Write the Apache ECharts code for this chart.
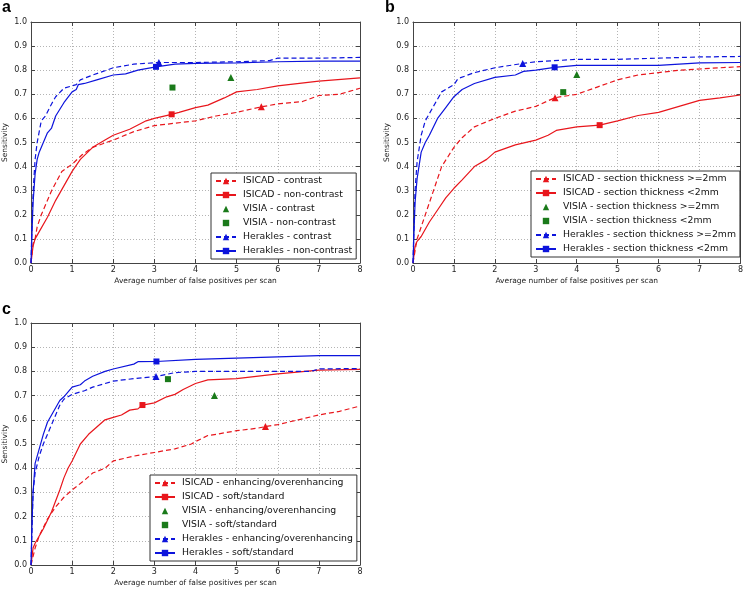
<!DOCTYPE html>
<html><head><meta charset="utf-8">
<script src="https://cdn.jsdelivr.net/npm/echarts@6/dist/echarts.min.js"></script>
<style>html,body{margin:0;padding:0;background:#fff}#c{width:746px;height:589px}</style>
</head><body><div id="c"></div>
<script>
// ---------- Panel a ----------
const aIsicadContrast = [[0,0],[0.05,0.08],[0.1,0.1],[0.15,0.15],[0.25,0.2],[0.5,0.3],[0.75,0.38],[1.0,0.41],[1.25,0.45],[1.5,0.48],[2.0,0.51],[2.5,0.545],[3.0,0.57],[3.5,0.58],[4.0,0.59],[4.5,0.61],[5.0,0.625],[5.6,0.648],[6.0,0.66],[6.6,0.67],[7.0,0.695],[7.5,0.70],[8,0.725]];
const aIsicadNon = [[0,0],[0.05,0.07],[0.1,0.1],[0.2,0.13],[0.4,0.19],[0.6,0.26],[0.8,0.32],[1.0,0.38],[1.2,0.43],[1.5,0.48],[1.8,0.51],[2.0,0.53],[2.4,0.555],[2.8,0.59],[3.0,0.60],[3.42,0.617],[3.6,0.625],[4.0,0.645],[4.3,0.655],[4.7,0.685],[5.0,0.71],[5.5,0.72],[6.0,0.735],[7.0,0.755],[8.0,0.768]];
const aHeraklesContrast = [[0,0],[0.03,0.2],[0.06,0.32],[0.1,0.43],[0.15,0.5],[0.25,0.59],[0.35,0.61],[0.5,0.66],[0.6,0.69],[0.8,0.725],[1.0,0.735],[1.1,0.74],[1.2,0.76],[1.5,0.78],[2.0,0.81],[2.5,0.825],[3.11,0.832],[4.0,0.832],[5.0,0.835],[5.8,0.84],[6.0,0.85],[7.0,0.85],[8.0,0.853]];
const aHeraklesNon = [[0,0],[0.03,0.15],[0.05,0.25],[0.1,0.37],[0.15,0.43],[0.2,0.46],[0.3,0.5],[0.4,0.54],[0.5,0.56],[0.6,0.61],[0.8,0.665],[1.0,0.71],[1.1,0.72],[1.15,0.74],[1.3,0.745],[1.6,0.76],[2.0,0.78],[2.3,0.785],[2.6,0.80],[3.04,0.814],[3.5,0.825],[4.0,0.828],[5.0,0.83],[6.0,0.835],[7.0,0.838],[8.0,0.838]];
const aMarkIsicadContrast = [5.6, 0.648];
const aMarkIsicadNon = [3.42, 0.617];
const aMarkHeraklesContrast = [3.11, 0.832];
const aMarkHeraklesNon = [3.04, 0.814];
const aVisiaContrast = [[4.86, 0.77]];
const aVisiaNon = [[3.44, 0.728]];

// ---------- Panel b ----------
const bIsicadThick = [[0,0],[0.1,0.1],[0.2,0.15],[0.4,0.25],[0.6,0.35],[0.7,0.40],[0.85,0.44],[1.0,0.48],[1.2,0.52],[1.5,0.565],[2.0,0.60],[2.5,0.63],[3.0,0.65],[3.47,0.686],[4.0,0.70],[4.5,0.73],[5.0,0.76],[5.5,0.78],[6.0,0.79],[6.5,0.80],[7.0,0.805],[8.0,0.815]];
const bIsicadThin = [[0,0],[0.05,0.07],[0.1,0.09],[0.2,0.11],[0.4,0.17],[0.6,0.22],[0.8,0.27],[1.0,0.31],[1.2,0.345],[1.5,0.40],[1.8,0.43],[2.0,0.46],[2.5,0.49],[3.0,0.51],[3.3,0.53],[3.5,0.55],[4.0,0.565],[4.56,0.572],[5.0,0.59],[5.5,0.612],[6.0,0.625],[6.5,0.65],[7.0,0.675],[7.5,0.685],[8.0,0.697]];
const bHeraklesThick = [[0,0],[0.03,0.2],[0.05,0.3],[0.1,0.42],[0.2,0.53],[0.3,0.59],[0.5,0.65],[0.7,0.71],[1.0,0.74],[1.1,0.765],[1.5,0.79],[2.0,0.81],[2.68,0.828],[3.0,0.835],[4.0,0.845],[5.0,0.845],[6.0,0.85],[7.0,0.855],[8.0,0.857]];
const bHeraklesThin = [[0,0],[0.03,0.15],[0.05,0.25],[0.1,0.35],[0.2,0.46],[0.3,0.5],[0.4,0.53],[0.6,0.6],[0.8,0.645],[1.0,0.69],[1.2,0.72],[1.5,0.745],[2.0,0.77],[2.5,0.78],[2.7,0.795],[3.0,0.80],[3.46,0.812],[4.0,0.82],[5.0,0.82],[6.0,0.82],[7.0,0.83],[8.0,0.832]];
const bMarkIsicadThick = [3.47, 0.686];
const bMarkIsicadThin = [4.56, 0.572];
const bMarkHeraklesThick = [2.68, 0.828];
const bMarkHeraklesThin = [3.46, 0.812];
const bVisiaThick = [[4.0, 0.782]];
const bVisiaThin = [[3.67, 0.709]];

// ---------- Panel c ----------
const cIsicadEnh = [[0,0],[0.1,0.07],[0.2,0.12],[0.4,0.19],[0.6,0.24],[0.8,0.28],[1.0,0.31],[1.3,0.35],[1.5,0.38],[1.8,0.40],[2.0,0.43],[2.5,0.45],[3.0,0.465],[3.5,0.48],[3.9,0.50],[4.0,0.51],[4.3,0.535],[4.5,0.54],[5.0,0.555],[5.5,0.565],[5.7,0.572],[6.0,0.58],[6.5,0.60],[7.0,0.62],[7.5,0.635],[8.0,0.657]];
const cIsicadSoft = [[0,0],[0.05,0.07],[0.1,0.09],[0.3,0.15],[0.5,0.22],[0.7,0.31],[0.8,0.36],[0.9,0.40],[1.0,0.43],[1.2,0.50],[1.4,0.54],[1.6,0.57],[1.8,0.60],[2.0,0.61],[2.2,0.62],[2.4,0.64],[2.6,0.645],[2.71,0.661],[3.0,0.67],[3.3,0.695],[3.5,0.705],[3.7,0.725],[4.0,0.75],[4.3,0.765],[5.0,0.77],[6.0,0.79],[7.0,0.805],[8.0,0.808]];
const cHeraklesEnh = [[0,0],[0.05,0.3],[0.1,0.38],[0.2,0.45],[0.3,0.50],[0.5,0.58],[0.6,0.62],[0.7,0.66],[0.8,0.685],[1.0,0.705],[1.3,0.72],[1.5,0.735],[2.0,0.76],[2.5,0.77],[3.04,0.779],[3.5,0.795],[4.0,0.80],[5.0,0.80],[6.0,0.80],[6.8,0.80],[7.0,0.81],[8.0,0.812]];
const cHeraklesSoft = [[0,0],[0.03,0.2],[0.05,0.3],[0.1,0.42],[0.2,0.48],[0.3,0.54],[0.4,0.59],[0.5,0.62],[0.6,0.65],[0.7,0.68],[0.8,0.695],[1.0,0.735],[1.2,0.745],[1.3,0.76],[1.5,0.78],[1.8,0.80],[2.0,0.81],[2.5,0.83],[2.6,0.84],[3.05,0.841],[4.0,0.85],[5.0,0.855],[6.0,0.86],[7.0,0.865],[8.0,0.865]];
const cMarkIsicadEnh = [5.7, 0.572];
const cMarkIsicadSoft = [2.71, 0.661];
const cMarkHeraklesEnh = [3.04, 0.779];
const cMarkHeraklesSoft = [3.05, 0.841];
const cVisiaEnh = [[4.46, 0.70]];
const cVisiaSoft = [[3.33, 0.768]];

const panelLabels = ['a', 'b', 'c'];
const xAxisName = 'Average number of false positives per scan';
const yAxisName = 'Sensitivity';

// ---------- styling / layout ----------
const FONT = 'DejaVu Sans';
const RED = '#e8161c', BLUE = '#0d14dc', GREEN = '#1a7a1a';
const AX = '#444';
const grids = [
  {left: 30, top: 22, width: 330, height: 241},
  {left: 413, top: 22, width: 329, height: 241},
  {left: 30, top: 323, width: 330, height: 242}
];

const xAxes = [], yAxes = [];
grids.forEach((g, i) => {
  xAxes.push({
    type: 'value', gridIndex: i, min: 0, max: 8, interval: 1, position: 'bottom',
    axisLine: {show: true, onZero: false, lineStyle: {color: AX, width: 1}},
    axisTick: {show: true, inside: true, length: 4, lineStyle: {color: AX}},
    axisLabel: {fontSize: 8, color: '#222', margin: 3, fontFamily: FONT},
    splitLine: {show: true, lineStyle: {type: [1, 2], color: '#b4b4b4', width: 1}},
    name: xAxisName, nameLocation: 'middle', nameGap: 14,
    nameTextStyle: {fontSize: 7.5, color: '#222', fontFamily: FONT}
  });
  xAxes.push({
    type: 'value', gridIndex: i, min: 0, max: 8, interval: 1, position: 'top',
    axisLine: {show: true, onZero: false, lineStyle: {color: AX, width: 1}},
    axisTick: {show: true, inside: true, length: 4, lineStyle: {color: AX}},
    axisLabel: {show: false}, splitLine: {show: false}
  });
  yAxes.push({
    type: 'value', gridIndex: i, min: 0, max: 1, interval: 0.1, position: 'left',
    axisLine: {show: true, onZero: false, lineStyle: {color: AX, width: 1}},
    axisTick: {show: true, inside: true, length: 4, lineStyle: {color: AX}},
    axisLabel: {fontSize: 8, color: '#222', margin: 4, fontFamily: FONT, formatter: v => v.toFixed(1)},
    splitLine: {show: true, lineStyle: {type: [1, 2], color: '#b4b4b4', width: 1}},
    name: yAxisName, nameLocation: 'middle', nameGap: 22, nameRotate: 90,
    nameTextStyle: {fontSize: 7.5, color: '#222', fontFamily: FONT}
  });
  yAxes.push({
    type: 'value', gridIndex: i, min: 0, max: 1, interval: 0.1, position: 'right',
    axisLine: {show: true, onZero: false, lineStyle: {color: AX, width: 1}},
    axisTick: {show: true, inside: true, length: 4, lineStyle: {color: AX}},
    axisLabel: {show: false}, splitLine: {show: false}
  });
});

const series = [];
function curve(panel, name, data, color, dashed, symbol, mark) {
  series.push({
    type: 'line', name: name, xAxisIndex: panel * 2, yAxisIndex: panel * 2,
    data: data, showSymbol: false, symbol: symbol, symbolSize: 6,
    lineStyle: {color: color, width: 1.2, type: dashed ? [5, 3] : 'solid'},
    itemStyle: {color: color},
    z: 3,
    markPoint: {
      symbol: symbol, symbolSize: symbol === 'triangle' ? 7 : 6,
      label: {show: false}, itemStyle: {color: color},
      data: [{coord: mark}], animation: false
    }
  });
}
function point(panel, name, data, symbol) {
  series.push({
    type: 'line', name: name, xAxisIndex: panel * 2, yAxisIndex: panel * 2,
    data: data, showSymbol: true, symbol: symbol, symbolSize: symbol === 'triangle' ? 7 : 6,
    lineStyle: {opacity: 0, width: 0}, itemStyle: {color: GREEN}, z: 4
  });
}

const namesA = ['ISICAD - contrast','ISICAD - non-contrast','VISIA - contrast','VISIA - non-contrast','Herakles - contrast','Herakles - non-contrast'];
const namesB = ['ISICAD - section thickness >=2mm','ISICAD - section thickness <2mm','VISIA - section thickness >=2mm','VISIA - section thickness <2mm','Herakles - section thickness >=2mm','Herakles - section thickness <2mm'];
const namesC = ['ISICAD - enhancing/overenhancing','ISICAD - soft/standard','VISIA - enhancing/overenhancing','VISIA - soft/standard','Herakles - enhancing/overenhancing','Herakles - soft/standard'];

curve(0, namesA[0], aIsicadContrast, RED, true, 'triangle', aMarkIsicadContrast);
curve(0, namesA[1], aIsicadNon, RED, false, 'rect', aMarkIsicadNon);
point(0, namesA[2], aVisiaContrast, 'triangle');
point(0, namesA[3], aVisiaNon, 'rect');
curve(0, namesA[4], aHeraklesContrast, BLUE, true, 'triangle', aMarkHeraklesContrast);
curve(0, namesA[5], aHeraklesNon, BLUE, false, 'rect', aMarkHeraklesNon);

curve(1, namesB[0], bIsicadThick, RED, true, 'triangle', bMarkIsicadThick);
curve(1, namesB[1], bIsicadThin, RED, false, 'rect', bMarkIsicadThin);
point(1, namesB[2], bVisiaThick, 'triangle');
point(1, namesB[3], bVisiaThin, 'rect');
curve(1, namesB[4], bHeraklesThick, BLUE, true, 'triangle', bMarkHeraklesThick);
curve(1, namesB[5], bHeraklesThin, BLUE, false, 'rect', bMarkHeraklesThin);

curve(2, namesC[0], cIsicadEnh, RED, true, 'triangle', cMarkIsicadEnh);
curve(2, namesC[1], cIsicadSoft, RED, false, 'rect', cMarkIsicadSoft);
point(2, namesC[2], cVisiaEnh, 'triangle');
point(2, namesC[3], cVisiaSoft, 'rect');
curve(2, namesC[4], cHeraklesEnh, BLUE, true, 'triangle', cMarkHeraklesEnh);
curve(2, namesC[5], cHeraklesSoft, BLUE, false, 'rect', cMarkHeraklesSoft);

function legend(names, left, top) {
  return {
    orient: 'vertical', left: left, top: top, data: names,
    selectedMode: false, itemWidth: 20, itemHeight: 8, itemGap: 0,
    padding: [1, 4, 1, 4], borderColor: '#333', borderWidth: 1, backgroundColor: '#fff',
    borderRadius: 0, z: 10,
    textStyle: {fontSize: 9.3, lineHeight: 14, color: '#111', fontFamily: FONT, padding: [0, 0, 0, 2]}
  };
}

const chart = echarts.init(document.getElementById('c'), null, {renderer: 'canvas'});
chart.setOption({
  animation: false,
  backgroundColor: '#fff',
  grid: grids,
  xAxis: xAxes,
  yAxis: yAxes,
  legend: [legend(namesA, 211, 173), legend(namesB, 531, 171), legend(namesC, 150, 475)],
  series: series,
  graphic: [
    {type: 'text', left: 2, top: 0, style: {text: panelLabels[0], font: 'bold 16px "Liberation Sans", Arial', fill: '#000'}},
    {type: 'text', left: 385, top: 0, style: {text: panelLabels[1], font: 'bold 16px "Liberation Sans", Arial', fill: '#000'}},
    {type: 'text', left: 2, top: 302, style: {text: panelLabels[2], font: 'bold 16px "Liberation Sans", Arial', fill: '#000'}}
  ]
});
</script></body></html>
